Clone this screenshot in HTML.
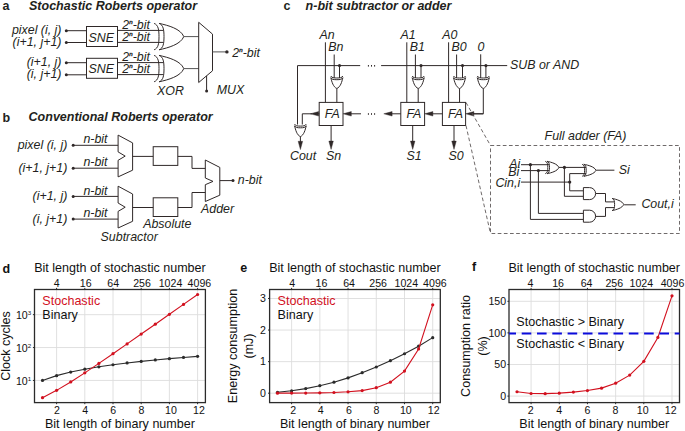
<!DOCTYPE html>
<html><head><meta charset="utf-8"><style>
html,body{margin:0;padding:0;background:#fff;}
svg{display:block;font-family:"Liberation Sans",sans-serif;}
</style></head><body>
<svg width="685" height="431" viewBox="0 0 685 431">
<rect width="685" height="431" fill="#fff"/>
<text x="2.60" y="9.85" font-size="12.5" text-anchor="start" font-weight="bold" font-style="normal" fill="#231f20" >a</text>
<text x="29.00" y="9.65" font-size="12.5" text-anchor="start" font-weight="bold" font-style="italic" fill="#231f20" >Stochastic Roberts operator</text>
<text x="61.50" y="34.10" font-size="12.4" text-anchor="end" font-weight="normal" font-style="italic" fill="#231f20" >pixel (i, j)</text>
<circle cx="66.30" cy="30.70" r="1.5" fill="#2f2828"/>
<line x1="66.30" y1="30.70" x2="86.50" y2="30.70" stroke="#2f2828" stroke-width="1" />
<text x="61.50" y="45.90" font-size="12.4" text-anchor="end" font-weight="normal" font-style="italic" fill="#231f20" >(i+1, j+1)</text>
<circle cx="66.30" cy="42.50" r="1.5" fill="#2f2828"/>
<line x1="66.30" y1="42.50" x2="86.50" y2="42.50" stroke="#2f2828" stroke-width="1" />
<text x="61.50" y="66.10" font-size="12.4" text-anchor="end" font-weight="normal" font-style="italic" fill="#231f20" >(i+1, j)</text>
<circle cx="66.30" cy="62.70" r="1.5" fill="#2f2828"/>
<line x1="66.30" y1="62.70" x2="86.50" y2="62.70" stroke="#2f2828" stroke-width="1" />
<text x="61.50" y="78.20" font-size="12.4" text-anchor="end" font-weight="normal" font-style="italic" fill="#231f20" >(i, j+1)</text>
<circle cx="66.30" cy="74.80" r="1.5" fill="#2f2828"/>
<line x1="66.30" y1="74.80" x2="86.50" y2="74.80" stroke="#2f2828" stroke-width="1" />
<rect x="86.50" y="26.50" width="31.00" height="20.00" fill="none" stroke="#2f2828" stroke-width="1" />
<text x="88.60" y="41.55" font-size="12.4" text-anchor="start" font-weight="normal" font-style="italic" fill="#231f20" >SNE</text>
<rect x="86.50" y="58.30" width="31.00" height="20.00" fill="none" stroke="#2f2828" stroke-width="1" />
<text x="88.60" y="73.35" font-size="12.4" text-anchor="start" font-weight="normal" font-style="italic" fill="#231f20" >SNE</text>
<line x1="117.50" y1="30.40" x2="163.20" y2="30.40" stroke="#2f2828" stroke-width="1" />
<line x1="117.50" y1="42.40" x2="163.20" y2="42.40" stroke="#2f2828" stroke-width="1" />
<text x="122.30" y="28.80" font-size="12.4" font-style="italic" fill="#231f20">2<tspan font-size="6.2" dy="-5.1" stroke="#231f20" stroke-width="0.35">n</tspan><tspan dy="5.1">-bit</tspan></text>
<text x="122.30" y="40.70" font-size="12.4" font-style="italic" fill="#231f20">2<tspan font-size="6.2" dy="-5.1" stroke="#231f20" stroke-width="0.35">n</tspan><tspan dy="5.1">-bit</tspan></text>
<path transform="translate(159.10,36.60) rotate(0)" d="M0,-13.20 C9.16,-11.19 21.49,-7.85 24.70,0 C21.49,7.85 9.16,11.19 0,13.20 C4.31,11.62 4.90,6.60 4.90,0 C4.90,-6.60 4.31,-11.62 0,-13.20 Z" fill="none" stroke="#2f2828" stroke-width="1"/>
<path transform="translate(159.10,36.60) rotate(0)" d="M-5.00,-13.20 C-0.69,-11.62 -0.10,-6.60 -0.10,0 C-0.10,6.60 -0.69,11.62 -5.00,13.20" fill="none" stroke="#2f2828" stroke-width="1"/>
<line x1="183.80" y1="36.60" x2="198.70" y2="36.60" stroke="#555" stroke-width="1" />
<line x1="117.50" y1="62.60" x2="163.20" y2="62.60" stroke="#2f2828" stroke-width="1" />
<line x1="117.50" y1="74.60" x2="163.20" y2="74.60" stroke="#2f2828" stroke-width="1" />
<text x="122.30" y="61.00" font-size="12.4" font-style="italic" fill="#231f20">2<tspan font-size="6.2" dy="-5.1" stroke="#231f20" stroke-width="0.35">n</tspan><tspan dy="5.1">-bit</tspan></text>
<text x="122.30" y="72.90" font-size="12.4" font-style="italic" fill="#231f20">2<tspan font-size="6.2" dy="-5.1" stroke="#231f20" stroke-width="0.35">n</tspan><tspan dy="5.1">-bit</tspan></text>
<path transform="translate(159.10,68.60) rotate(0)" d="M0,-13.20 C9.16,-11.19 21.49,-7.85 24.70,0 C21.49,7.85 9.16,11.19 0,13.20 C4.31,11.62 4.90,6.60 4.90,0 C4.90,-6.60 4.31,-11.62 0,-13.20 Z" fill="none" stroke="#2f2828" stroke-width="1"/>
<path transform="translate(159.10,68.60) rotate(0)" d="M-5.00,-13.20 C-0.69,-11.62 -0.10,-6.60 -0.10,0 C-0.10,6.60 -0.69,11.62 -5.00,13.20" fill="none" stroke="#2f2828" stroke-width="1"/>
<line x1="183.80" y1="68.60" x2="198.70" y2="68.60" stroke="#555" stroke-width="1" />
<polygon points="198.70,22.30 212.50,34.10 212.50,70.80 198.70,82.50" fill="none" stroke="#2f2828" stroke-width="1" stroke-linejoin="miter" />
<line x1="212.50" y1="51.90" x2="226.90" y2="51.90" stroke="#555" stroke-width="1" />
<circle cx="226.90" cy="51.90" r="1.7" fill="#2f2828"/>
<line x1="206.60" y1="75.90" x2="206.60" y2="90.90" stroke="#2f2828" stroke-width="1" />
<circle cx="206.60" cy="90.90" r="1.5" fill="#2f2828"/>
<text x="232.30" y="56.80" font-size="12.4" font-style="italic" fill="#231f20">2<tspan font-size="6.2" dy="-5.1" stroke="#231f20" stroke-width="0.35">n</tspan><tspan dy="5.1">-bit</tspan></text>
<text x="157.00" y="94.55" font-size="12.4" text-anchor="start" font-weight="normal" font-style="italic" fill="#231f20" >XOR</text>
<text x="216.80" y="94.35" font-size="12.4" text-anchor="start" font-weight="normal" font-style="italic" fill="#231f20" >MUX</text>
<text x="2.60" y="121.75" font-size="12.5" text-anchor="start" font-weight="bold" font-style="normal" fill="#231f20" >b</text>
<text x="28.60" y="121.45" font-size="12.5" text-anchor="start" font-weight="bold" font-style="italic" fill="#231f20" >Conventional Roberts operator</text>
<text x="67.30" y="148.70" font-size="12.4" text-anchor="end" font-weight="normal" font-style="italic" fill="#231f20" >pixel (i, j)</text>
<circle cx="73.20" cy="145.30" r="1.5" fill="#2f2828"/>
<line x1="73.20" y1="145.30" x2="118.10" y2="145.30" stroke="#2f2828" stroke-width="1" />
<text x="83.40" y="143.45" font-size="12.4" text-anchor="start" font-weight="normal" font-style="italic" fill="#231f20" >n-bit</text>
<text x="67.30" y="171.60" font-size="12.4" text-anchor="end" font-weight="normal" font-style="italic" fill="#231f20" >(i+1, j+1)</text>
<circle cx="73.20" cy="168.20" r="1.5" fill="#2f2828"/>
<line x1="73.20" y1="168.20" x2="118.10" y2="168.20" stroke="#2f2828" stroke-width="1" />
<text x="83.40" y="166.35" font-size="12.4" text-anchor="start" font-weight="normal" font-style="italic" fill="#231f20" >n-bit</text>
<text x="67.30" y="199.80" font-size="12.4" text-anchor="end" font-weight="normal" font-style="italic" fill="#231f20" >(i+1, j)</text>
<circle cx="73.20" cy="196.40" r="1.5" fill="#2f2828"/>
<line x1="73.20" y1="196.40" x2="118.10" y2="196.40" stroke="#2f2828" stroke-width="1" />
<text x="83.40" y="194.55" font-size="12.4" text-anchor="start" font-weight="normal" font-style="italic" fill="#231f20" >n-bit</text>
<text x="67.30" y="222.50" font-size="12.4" text-anchor="end" font-weight="normal" font-style="italic" fill="#231f20" >(i, j+1)</text>
<circle cx="73.20" cy="219.10" r="1.5" fill="#2f2828"/>
<line x1="73.20" y1="219.10" x2="118.10" y2="219.10" stroke="#2f2828" stroke-width="1" />
<text x="83.40" y="217.25" font-size="12.4" text-anchor="start" font-weight="normal" font-style="italic" fill="#231f20" >n-bit</text>
<polygon points="118.10,135.10 132.60,142.90 132.60,170.20 118.10,176.90 118.10,160.30 125.20,156.10 118.10,151.90" fill="none" stroke="#2f2828" stroke-width="1" stroke-linejoin="miter" />
<line x1="132.60" y1="156.40" x2="153.20" y2="156.40" stroke="#2f2828" stroke-width="1" />
<rect x="153.20" y="146.70" width="24.60" height="18.70" fill="none" stroke="#2f2828" stroke-width="1" />
<polygon points="118.10,186.20 132.60,194.00 132.60,221.30 118.10,228.00 118.10,211.40 125.20,207.20 118.10,203.00" fill="none" stroke="#2f2828" stroke-width="1" stroke-linejoin="miter" />
<line x1="132.60" y1="207.50" x2="153.20" y2="207.50" stroke="#2f2828" stroke-width="1" />
<rect x="153.20" y="197.80" width="24.60" height="18.70" fill="none" stroke="#2f2828" stroke-width="1" />
<line x1="177.80" y1="156.40" x2="192.00" y2="156.40" stroke="#2f2828" stroke-width="1" />
<line x1="192.00" y1="156.40" x2="192.00" y2="168.40" stroke="#2f2828" stroke-width="1" />
<line x1="192.00" y1="168.40" x2="205.30" y2="168.40" stroke="#2f2828" stroke-width="1" />
<line x1="177.80" y1="207.50" x2="192.00" y2="207.50" stroke="#2f2828" stroke-width="1" />
<line x1="192.00" y1="207.50" x2="192.00" y2="192.50" stroke="#2f2828" stroke-width="1" />
<line x1="192.00" y1="192.50" x2="205.30" y2="192.50" stroke="#2f2828" stroke-width="1" />
<polygon points="205.30,160.00 219.80,167.40 219.80,195.20 205.30,201.50 205.30,184.70 213.00,181.40 205.30,178.00" fill="none" stroke="#2f2828" stroke-width="1" stroke-linejoin="miter" />
<line x1="219.80" y1="180.60" x2="233.00" y2="180.60" stroke="#2f2828" stroke-width="1" />
<circle cx="233.00" cy="180.60" r="1.5" fill="#2f2828"/>
<text x="237.80" y="184.45" font-size="12.4" text-anchor="start" font-weight="normal" font-style="italic" fill="#231f20" >n-bit</text>
<text x="100.60" y="240.85" font-size="12.4" text-anchor="start" font-weight="normal" font-style="italic" fill="#231f20" >Subtractor</text>
<text x="143.20" y="228.35" font-size="12.4" text-anchor="start" font-weight="normal" font-style="italic" fill="#231f20" >Absolute</text>
<text x="201.00" y="212.75" font-size="12.4" text-anchor="start" font-weight="normal" font-style="italic" fill="#231f20" >Adder</text>
<text x="283.60" y="10.05" font-size="12.5" text-anchor="start" font-weight="bold" font-style="normal" fill="#231f20" >c</text>
<text x="305.60" y="9.55" font-size="12.5" text-anchor="start" font-weight="bold" font-style="italic" fill="#231f20" >n-bit subtractor or adder</text>
<line x1="297.50" y1="65.60" x2="360.20" y2="65.60" stroke="#2f2828" stroke-width="1" />
<line x1="381.10" y1="65.60" x2="507.20" y2="65.60" stroke="#2f2828" stroke-width="1" />
<text x="510.00" y="69.15" font-size="12.4" text-anchor="start" font-weight="normal" font-style="italic" fill="#231f20" >SUB or AND</text>
<text x="319.40" y="38.75" font-size="12.4" text-anchor="start" font-weight="normal" font-style="italic" fill="#231f20" >An</text>
<text x="328.20" y="51.25" font-size="12.4" text-anchor="start" font-weight="normal" font-style="italic" fill="#231f20" >Bn</text>
<line x1="325.40" y1="42.30" x2="325.40" y2="102.40" stroke="#2f2828" stroke-width="1" />
<line x1="334.20" y1="54.50" x2="334.20" y2="78.00" stroke="#2f2828" stroke-width="1" />
<circle cx="339.50" cy="65.60" r="1.55" fill="#2f2828"/>
<line x1="339.50" y1="65.60" x2="339.50" y2="78.00" stroke="#2f2828" stroke-width="1" />
<path transform="translate(336.85,77.70) rotate(90)" d="M0,-6.00 C4.01,-5.09 9.40,-3.57 10.80,0 C9.40,3.57 4.01,5.09 0,6.00 C1.76,5.28 2.00,3.00 2.00,0 C2.00,-3.00 1.76,-5.28 0,-6.00 Z" fill="#fff" stroke="#2f2828" stroke-width="1"/>
<path transform="translate(336.85,77.70) rotate(90)" d="M-1.70,-6.00 C0.06,-5.28 0.30,-3.00 0.30,0 C0.30,3.00 0.06,5.28 -1.70,6.00" fill="none" stroke="#2f2828" stroke-width="1"/>
<line x1="336.85" y1="88.70" x2="336.85" y2="102.40" stroke="#2f2828" stroke-width="1" />
<rect x="319.20" y="102.40" width="23.80" height="23.10" fill="none" stroke="#2f2828" stroke-width="1" />
<text x="324.80" y="118.05" font-size="12.4" text-anchor="start" font-weight="normal" font-style="italic" fill="#231f20" >FA</text>
<line x1="331.10" y1="125.50" x2="331.10" y2="143.40" stroke="#2f2828" stroke-width="1" />
<polygon points="328.85,141.10 333.35,141.10 331.10,149.40" fill="#2f2828" stroke="#2f2828" stroke-width="0.4" stroke-linejoin="miter" />
<text x="326.00" y="160.15" font-size="12.4" text-anchor="start" font-weight="normal" font-style="italic" fill="#231f20" >Sn</text>
<text x="400.60" y="38.75" font-size="12.4" text-anchor="start" font-weight="normal" font-style="italic" fill="#231f20" >A1</text>
<text x="409.80" y="51.25" font-size="12.4" text-anchor="start" font-weight="normal" font-style="italic" fill="#231f20" >B1</text>
<line x1="406.80" y1="42.30" x2="406.80" y2="102.40" stroke="#2f2828" stroke-width="1" />
<line x1="415.40" y1="54.50" x2="415.40" y2="78.00" stroke="#2f2828" stroke-width="1" />
<circle cx="421.00" cy="65.60" r="1.55" fill="#2f2828"/>
<line x1="421.00" y1="65.60" x2="421.00" y2="78.00" stroke="#2f2828" stroke-width="1" />
<path transform="translate(418.20,77.70) rotate(90)" d="M0,-6.00 C4.01,-5.09 9.40,-3.57 10.80,0 C9.40,3.57 4.01,5.09 0,6.00 C1.76,5.28 2.00,3.00 2.00,0 C2.00,-3.00 1.76,-5.28 0,-6.00 Z" fill="#fff" stroke="#2f2828" stroke-width="1"/>
<path transform="translate(418.20,77.70) rotate(90)" d="M-1.70,-6.00 C0.06,-5.28 0.30,-3.00 0.30,0 C0.30,3.00 0.06,5.28 -1.70,6.00" fill="none" stroke="#2f2828" stroke-width="1"/>
<line x1="418.20" y1="88.70" x2="418.20" y2="102.40" stroke="#2f2828" stroke-width="1" />
<rect x="400.80" y="102.40" width="23.80" height="23.10" fill="none" stroke="#2f2828" stroke-width="1" />
<text x="406.40" y="118.05" font-size="12.4" text-anchor="start" font-weight="normal" font-style="italic" fill="#231f20" >FA</text>
<line x1="412.70" y1="125.50" x2="412.70" y2="143.40" stroke="#2f2828" stroke-width="1" />
<polygon points="410.45,141.10 414.95,141.10 412.70,149.40" fill="#2f2828" stroke="#2f2828" stroke-width="0.4" stroke-linejoin="miter" />
<text x="406.40" y="160.15" font-size="12.4" text-anchor="start" font-weight="normal" font-style="italic" fill="#231f20" >S1</text>
<text x="442.30" y="38.75" font-size="12.4" text-anchor="start" font-weight="normal" font-style="italic" fill="#231f20" >A0</text>
<text x="451.60" y="51.25" font-size="12.4" text-anchor="start" font-weight="normal" font-style="italic" fill="#231f20" >B0</text>
<line x1="448.60" y1="42.30" x2="448.60" y2="102.40" stroke="#2f2828" stroke-width="1" />
<line x1="456.60" y1="54.50" x2="456.60" y2="78.00" stroke="#2f2828" stroke-width="1" />
<circle cx="462.50" cy="65.60" r="1.55" fill="#2f2828"/>
<line x1="462.50" y1="65.60" x2="462.50" y2="78.00" stroke="#2f2828" stroke-width="1" />
<path transform="translate(459.55,77.70) rotate(90)" d="M0,-6.00 C4.01,-5.09 9.40,-3.57 10.80,0 C9.40,3.57 4.01,5.09 0,6.00 C1.76,5.28 2.00,3.00 2.00,0 C2.00,-3.00 1.76,-5.28 0,-6.00 Z" fill="#fff" stroke="#2f2828" stroke-width="1"/>
<path transform="translate(459.55,77.70) rotate(90)" d="M-1.70,-6.00 C0.06,-5.28 0.30,-3.00 0.30,0 C0.30,3.00 0.06,5.28 -1.70,6.00" fill="none" stroke="#2f2828" stroke-width="1"/>
<line x1="459.55" y1="88.70" x2="459.55" y2="102.40" stroke="#2f2828" stroke-width="1" />
<rect x="442.40" y="102.40" width="23.20" height="23.10" fill="none" stroke="#2f2828" stroke-width="1" />
<text x="448.00" y="118.05" font-size="12.4" text-anchor="start" font-weight="normal" font-style="italic" fill="#231f20" >FA</text>
<line x1="454.00" y1="125.50" x2="454.00" y2="143.40" stroke="#2f2828" stroke-width="1" />
<polygon points="451.75,141.10 456.25,141.10 454.00,149.40" fill="#2f2828" stroke="#2f2828" stroke-width="0.4" stroke-linejoin="miter" />
<text x="448.60" y="160.15" font-size="12.4" text-anchor="start" font-weight="normal" font-style="italic" fill="#231f20" >S0</text>
<text x="477.40" y="51.05" font-size="12.4" text-anchor="start" font-weight="normal" font-style="italic" fill="#231f20" >0</text>
<line x1="480.70" y1="54.30" x2="480.70" y2="78.00" stroke="#2f2828" stroke-width="1" />
<circle cx="485.90" cy="65.60" r="1.55" fill="#2f2828"/>
<line x1="485.90" y1="65.60" x2="485.90" y2="78.00" stroke="#2f2828" stroke-width="1" />
<path transform="translate(483.30,77.70) rotate(90)" d="M0,-6.00 C4.01,-5.09 9.40,-3.57 10.80,0 C9.40,3.57 4.01,5.09 0,6.00 C1.76,5.28 2.00,3.00 2.00,0 C2.00,-3.00 1.76,-5.28 0,-6.00 Z" fill="#fff" stroke="#2f2828" stroke-width="1"/>
<path transform="translate(483.30,77.70) rotate(90)" d="M-1.70,-6.00 C0.06,-5.28 0.30,-3.00 0.30,0 C0.30,3.00 0.06,5.28 -1.70,6.00" fill="none" stroke="#2f2828" stroke-width="1"/>
<polyline points="483.30,88.70 483.30,113.80 470.00,113.80" fill="none" stroke="#2f2828" stroke-width="1" stroke-linejoin="miter" />
<line x1="483.30" y1="113.80" x2="471.60" y2="113.80" stroke="#2f2828" stroke-width="1" />
<polygon points="473.90,111.55 473.90,116.05 465.60,113.80" fill="#2f2828" stroke="#2f2828" stroke-width="0.4" stroke-linejoin="miter" />
<line x1="442.40" y1="113.80" x2="430.60" y2="113.80" stroke="#2f2828" stroke-width="1" />
<polygon points="432.90,111.55 432.90,116.05 424.60,113.80" fill="#2f2828" stroke="#2f2828" stroke-width="0.4" stroke-linejoin="miter" />
<line x1="400.80" y1="113.80" x2="389.80" y2="113.80" stroke="#2f2828" stroke-width="1" />
<polygon points="392.10,111.55 392.10,116.05 383.80,113.80" fill="#2f2828" stroke="#2f2828" stroke-width="0.4" stroke-linejoin="miter" />
<line x1="361.00" y1="113.80" x2="349.00" y2="113.80" stroke="#2f2828" stroke-width="1" />
<polygon points="351.30,111.55 351.30,116.05 343.00,113.80" fill="#2f2828" stroke="#2f2828" stroke-width="0.4" stroke-linejoin="miter" />
<rect x="367.9" y="65.0" width="1" height="1.6" fill="#2f2828"/>
<rect x="367.9" y="113.2" width="1" height="1.6" fill="#2f2828"/>
<rect x="371.0" y="65.0" width="1" height="1.6" fill="#2f2828"/>
<rect x="371.0" y="113.2" width="1" height="1.6" fill="#2f2828"/>
<rect x="374.1" y="65.0" width="1" height="1.6" fill="#2f2828"/>
<rect x="374.1" y="113.2" width="1" height="1.6" fill="#2f2828"/>
<line x1="319.20" y1="113.80" x2="316.40" y2="113.80" stroke="#2f2828" stroke-width="1" />
<polygon points="318.70,111.55 318.70,116.05 310.40,113.80" fill="#2f2828" stroke="#2f2828" stroke-width="0.4" stroke-linejoin="miter" />
<polyline points="312.00,113.80 302.30,113.80 302.30,124.50" fill="none" stroke="#2f2828" stroke-width="1" stroke-linejoin="miter" />
<line x1="297.50" y1="65.60" x2="297.50" y2="124.50" stroke="#2f2828" stroke-width="1" />
<path transform="translate(300.40,125.80) rotate(90)" d="M0,-5.80 C4.01,-4.92 9.40,-3.45 10.80,0 C9.40,3.45 4.01,4.92 0,5.80 C1.76,5.10 2.00,2.90 2.00,0 C2.00,-2.90 1.76,-5.10 0,-5.80 Z" fill="#fff" stroke="#2f2828" stroke-width="1"/>
<path transform="translate(300.40,125.80) rotate(90)" d="M-1.70,-5.80 C0.06,-5.10 0.30,-2.90 0.30,0 C0.30,2.90 0.06,5.10 -1.70,5.80" fill="none" stroke="#2f2828" stroke-width="1"/>
<line x1="300.40" y1="136.60" x2="300.40" y2="143.60" stroke="#2f2828" stroke-width="1" />
<polygon points="298.15,141.30 302.65,141.30 300.40,149.60" fill="#2f2828" stroke="#2f2828" stroke-width="0.4" stroke-linejoin="miter" />
<text x="290.00" y="160.25" font-size="12.4" text-anchor="start" font-weight="normal" font-style="italic" fill="#231f20" >Cout</text>
<line x1="466.00" y1="102.50" x2="490.50" y2="145.50" stroke="#5f5959" stroke-width="0.9" stroke-dasharray="3.7,2.45"/>
<line x1="466.00" y1="125.60" x2="490.50" y2="233.50" stroke="#5f5959" stroke-width="0.9" stroke-dasharray="3.7,2.45"/>
<rect x="490.50" y="145.50" width="189.00" height="88.00" fill="none" stroke="#5f5959" stroke-width="0.9" stroke-dasharray="3.7,2.45"/>
<text x="544.60" y="139.85" font-size="12.4" text-anchor="start" font-weight="normal" font-style="italic" fill="#231f20" >Full adder (FA)</text>
<text x="520.20" y="168.05" font-size="12.4" text-anchor="end" font-weight="normal" font-style="italic" fill="#231f20" >Ai</text>
<text x="519.20" y="175.95" font-size="12.4" text-anchor="end" font-weight="normal" font-style="italic" fill="#231f20" >Bi</text>
<text x="520.20" y="187.25" font-size="12.4" text-anchor="end" font-weight="normal" font-style="italic" fill="#231f20" >Cin,i</text>
<line x1="521.00" y1="164.70" x2="549.00" y2="164.70" stroke="#2f2828" stroke-width="1" />
<line x1="521.00" y1="170.60" x2="549.00" y2="170.60" stroke="#2f2828" stroke-width="1" />
<line x1="521.00" y1="182.10" x2="569.70" y2="182.10" stroke="#2f2828" stroke-width="1" />
<circle cx="530.40" cy="164.70" r="1.6" fill="#2f2828"/>
<circle cx="538.40" cy="170.60" r="1.6" fill="#2f2828"/>
<polyline points="530.40,164.70 530.40,219.40 583.30,219.40" fill="none" stroke="#2f2828" stroke-width="1" stroke-linejoin="miter" />
<polyline points="538.40,170.60 538.40,213.40 583.30,213.40" fill="none" stroke="#2f2828" stroke-width="1" stroke-linejoin="miter" />
<path transform="translate(547.00,167.50) rotate(0)" d="M0,-6.20 C4.41,-5.26 10.35,-3.69 11.90,0 C10.35,3.69 4.41,5.26 0,6.20 C2.20,5.46 2.50,3.10 2.50,0 C2.50,-3.10 2.20,-5.46 0,-6.20 Z" fill="#fff" stroke="#2f2828" stroke-width="1"/>
<path transform="translate(547.00,167.50) rotate(0)" d="M-1.70,-6.20 C0.50,-5.46 0.80,-3.10 0.80,0 C0.80,3.10 0.50,5.46 -1.70,6.20" fill="none" stroke="#2f2828" stroke-width="1"/>
<line x1="558.80" y1="167.40" x2="586.00" y2="167.40" stroke="#2f2828" stroke-width="1" />
<circle cx="564.40" cy="167.40" r="1.6" fill="#2f2828"/>
<polyline points="564.40,167.40 564.40,196.30 583.30,196.30" fill="none" stroke="#2f2828" stroke-width="1" stroke-linejoin="miter" />
<circle cx="569.70" cy="182.10" r="1.6" fill="#2f2828"/>
<polyline points="586.00,173.60 569.70,173.60 569.70,190.80 583.30,190.80" fill="none" stroke="#2f2828" stroke-width="1" stroke-linejoin="miter" />
<path transform="translate(583.80,170.30) rotate(0)" d="M0,-6.00 C4.53,-5.09 10.61,-3.57 12.20,0 C10.61,3.57 4.53,5.09 0,6.00 C2.11,5.28 2.40,3.00 2.40,0 C2.40,-3.00 2.11,-5.28 0,-6.00 Z" fill="#fff" stroke="#2f2828" stroke-width="1"/>
<path transform="translate(583.80,170.30) rotate(0)" d="M-1.60,-6.00 C0.51,-5.28 0.80,-3.00 0.80,0 C0.80,3.00 0.51,5.28 -1.60,6.00" fill="none" stroke="#2f2828" stroke-width="1"/>
<line x1="596.20" y1="170.20" x2="614.40" y2="170.20" stroke="#2f2828" stroke-width="1" />
<text x="618.80" y="174.25" font-size="12.4" text-anchor="start" font-weight="normal" font-style="italic" fill="#231f20" >Si</text>
<path d="M583.40,187.60 L589.60,187.60 A6.00,6.00 0 0 1 589.60,199.60 L583.40,199.60 Z" fill="#fff" stroke="#2f2828" stroke-width="1" />
<path d="M583.40,210.20 L589.60,210.20 A6.00,6.00 0 0 1 589.60,222.20 L583.40,222.20 Z" fill="#fff" stroke="#2f2828" stroke-width="1" />
<polyline points="595.70,193.50 605.50,193.50 605.50,201.90 614.00,201.90" fill="none" stroke="#2f2828" stroke-width="1" stroke-linejoin="miter" />
<polyline points="595.70,216.40 605.50,216.40 605.50,207.60 614.00,207.60" fill="none" stroke="#2f2828" stroke-width="1" stroke-linejoin="miter" />
<path transform="translate(612.20,204.50) rotate(0)" d="M0,-6.05 C4.27,-5.13 10.01,-3.60 11.50,0 C10.01,3.60 4.27,5.13 0,6.05 C2.11,5.32 2.40,3.02 2.40,0 C2.40,-3.02 2.11,-5.32 0,-6.05 Z" fill="#fff" stroke="#2f2828" stroke-width="1"/>
<line x1="624.20" y1="204.80" x2="635.70" y2="204.80" stroke="#2f2828" stroke-width="1" />
<text x="641.40" y="208.25" font-size="12.4" text-anchor="start" font-weight="normal" font-style="italic" fill="#231f20" >Cout,i</text>
<line x1="56.60" y1="289.50" x2="56.60" y2="402.60" stroke="#dcdcdc" stroke-width="0.9" />
<line x1="84.80" y1="289.50" x2="84.80" y2="402.60" stroke="#dcdcdc" stroke-width="0.9" />
<line x1="113.00" y1="289.50" x2="113.00" y2="402.60" stroke="#dcdcdc" stroke-width="0.9" />
<line x1="141.20" y1="289.50" x2="141.20" y2="402.60" stroke="#dcdcdc" stroke-width="0.9" />
<line x1="169.40" y1="289.50" x2="169.40" y2="402.60" stroke="#dcdcdc" stroke-width="0.9" />
<line x1="197.60" y1="289.50" x2="197.60" y2="402.60" stroke="#dcdcdc" stroke-width="0.9" />
<line x1="34.50" y1="380.45" x2="205.40" y2="380.45" stroke="#dcdcdc" stroke-width="0.9" />
<line x1="34.50" y1="347.55" x2="205.40" y2="347.55" stroke="#dcdcdc" stroke-width="0.9" />
<line x1="34.50" y1="314.65" x2="205.40" y2="314.65" stroke="#dcdcdc" stroke-width="0.9" />
<rect x="34.50" y="289.50" width="170.90" height="113.10" fill="none" stroke="#2b2b2b" stroke-width="1.3" />
<line x1="56.60" y1="402.60" x2="56.60" y2="404.20" stroke="#2b2b2b" stroke-width="1" />
<line x1="56.60" y1="289.50" x2="56.60" y2="287.90" stroke="#2b2b2b" stroke-width="1" />
<text x="57.00" y="413.90" font-size="10.6" text-anchor="middle" font-weight="normal" font-style="normal" fill="#111" >2</text>
<text x="56.60" y="286.50" font-size="10.6" text-anchor="middle" font-weight="normal" font-style="normal" fill="#111" >4</text>
<line x1="84.80" y1="402.60" x2="84.80" y2="404.20" stroke="#2b2b2b" stroke-width="1" />
<line x1="84.80" y1="289.50" x2="84.80" y2="287.90" stroke="#2b2b2b" stroke-width="1" />
<text x="85.10" y="413.90" font-size="10.6" text-anchor="middle" font-weight="normal" font-style="normal" fill="#111" >4</text>
<text x="85.70" y="286.50" font-size="10.6" text-anchor="middle" font-weight="normal" font-style="normal" fill="#111" >16</text>
<line x1="113.00" y1="402.60" x2="113.00" y2="404.20" stroke="#2b2b2b" stroke-width="1" />
<line x1="113.00" y1="289.50" x2="113.00" y2="287.90" stroke="#2b2b2b" stroke-width="1" />
<text x="113.30" y="413.90" font-size="10.6" text-anchor="middle" font-weight="normal" font-style="normal" fill="#111" >6</text>
<text x="113.20" y="286.50" font-size="10.6" text-anchor="middle" font-weight="normal" font-style="normal" fill="#111" >64</text>
<line x1="141.20" y1="402.60" x2="141.20" y2="404.20" stroke="#2b2b2b" stroke-width="1" />
<line x1="141.20" y1="289.50" x2="141.20" y2="287.90" stroke="#2b2b2b" stroke-width="1" />
<text x="141.50" y="413.90" font-size="10.6" text-anchor="middle" font-weight="normal" font-style="normal" fill="#111" >8</text>
<text x="142.00" y="286.50" font-size="10.6" text-anchor="middle" font-weight="normal" font-style="normal" fill="#111" >256</text>
<line x1="169.40" y1="402.60" x2="169.40" y2="404.20" stroke="#2b2b2b" stroke-width="1" />
<line x1="169.40" y1="289.50" x2="169.40" y2="287.90" stroke="#2b2b2b" stroke-width="1" />
<text x="170.90" y="413.90" font-size="10.6" text-anchor="middle" font-weight="normal" font-style="normal" fill="#111" >10</text>
<text x="170.50" y="286.50" font-size="10.6" text-anchor="middle" font-weight="normal" font-style="normal" fill="#111" >1024</text>
<line x1="197.60" y1="402.60" x2="197.60" y2="404.20" stroke="#2b2b2b" stroke-width="1" />
<line x1="197.60" y1="289.50" x2="197.60" y2="287.90" stroke="#2b2b2b" stroke-width="1" />
<text x="198.90" y="413.90" font-size="10.6" text-anchor="middle" font-weight="normal" font-style="normal" fill="#111" >12</text>
<text x="199.40" y="286.50" font-size="10.6" text-anchor="middle" font-weight="normal" font-style="normal" fill="#111" >4096</text>
<line x1="34.50" y1="380.45" x2="32.90" y2="380.45" stroke="#2b2b2b" stroke-width="1" />
<text x="31.20" y="384.65" font-size="10.6" text-anchor="end" fill="#111">10<tspan font-size="6.2" dy="-3.9">1</tspan></text>
<line x1="34.50" y1="347.55" x2="32.90" y2="347.55" stroke="#2b2b2b" stroke-width="1" />
<text x="31.20" y="351.75" font-size="10.6" text-anchor="end" fill="#111">10<tspan font-size="6.2" dy="-3.9">2</tspan></text>
<line x1="34.50" y1="314.65" x2="32.90" y2="314.65" stroke="#2b2b2b" stroke-width="1" />
<text x="31.20" y="318.85" font-size="10.6" text-anchor="end" fill="#111">10<tspan font-size="6.2" dy="-3.9">3</tspan></text>
<text x="119.95" y="271.70" font-size="12.55" text-anchor="middle" font-weight="normal" font-style="normal" fill="#111" >Bit length of stochastic number</text>
<text x="119.95" y="427.60" font-size="12.55" text-anchor="middle" font-weight="normal" font-style="normal" fill="#111" >Bit length of binary number</text>
<text x="2.60" y="272.55" font-size="12.5" text-anchor="start" font-weight="bold" font-style="normal" fill="#111" >d</text>
<polyline points="42.50,380.45 56.60,375.64 70.70,372.05 84.80,369.18 98.90,366.80 113.00,364.75 127.10,362.96 141.20,361.38 155.30,359.95 169.40,358.65 183.50,357.45 197.60,356.35" fill="none" stroke="#2b2b2b" stroke-width="1.1" stroke-linejoin="miter" />
<circle cx="42.50" cy="380.45" r="1.6" fill="#2b2b2b"/>
<circle cx="56.60" cy="375.64" r="1.6" fill="#2b2b2b"/>
<circle cx="70.70" cy="372.05" r="1.6" fill="#2b2b2b"/>
<circle cx="84.80" cy="369.18" r="1.6" fill="#2b2b2b"/>
<circle cx="98.90" cy="366.80" r="1.6" fill="#2b2b2b"/>
<circle cx="113.00" cy="364.75" r="1.6" fill="#2b2b2b"/>
<circle cx="127.10" cy="362.96" r="1.6" fill="#2b2b2b"/>
<circle cx="141.20" cy="361.38" r="1.6" fill="#2b2b2b"/>
<circle cx="155.30" cy="359.95" r="1.6" fill="#2b2b2b"/>
<circle cx="169.40" cy="358.65" r="1.6" fill="#2b2b2b"/>
<circle cx="183.50" cy="357.45" r="1.6" fill="#2b2b2b"/>
<circle cx="197.60" cy="356.35" r="1.6" fill="#2b2b2b"/>
<polyline points="42.50,397.65 56.60,390.35 70.70,381.96 84.80,372.87 98.90,363.39 113.00,353.71 127.10,343.91 141.20,334.06 155.30,324.19 169.40,314.30 183.50,304.40 197.60,294.50" fill="none" stroke="#d2101e" stroke-width="1.1" stroke-linejoin="miter" />
<circle cx="42.50" cy="397.65" r="1.6" fill="#d2101e"/>
<circle cx="56.60" cy="390.35" r="1.6" fill="#d2101e"/>
<circle cx="70.70" cy="381.96" r="1.6" fill="#d2101e"/>
<circle cx="84.80" cy="372.87" r="1.6" fill="#d2101e"/>
<circle cx="98.90" cy="363.39" r="1.6" fill="#d2101e"/>
<circle cx="113.00" cy="353.71" r="1.6" fill="#d2101e"/>
<circle cx="127.10" cy="343.91" r="1.6" fill="#d2101e"/>
<circle cx="141.20" cy="334.06" r="1.6" fill="#d2101e"/>
<circle cx="155.30" cy="324.19" r="1.6" fill="#d2101e"/>
<circle cx="169.40" cy="314.30" r="1.6" fill="#d2101e"/>
<circle cx="183.50" cy="304.40" r="1.6" fill="#d2101e"/>
<circle cx="197.60" cy="294.50" r="1.6" fill="#d2101e"/>
<text transform="translate(9.6,346) rotate(-90)" font-size="12.55" text-anchor="middle" fill="#111">Clock cycles</text>
<text x="42.30" y="304.50" font-size="12.55" text-anchor="start" font-weight="normal" font-style="normal" fill="#d2101e" >Stochastic</text>
<text x="42.30" y="318.70" font-size="12.55" text-anchor="start" font-weight="normal" font-style="normal" fill="#111" >Binary</text>
<line x1="291.61" y1="289.50" x2="291.61" y2="402.60" stroke="#dcdcdc" stroke-width="0.9" />
<line x1="319.83" y1="289.50" x2="319.83" y2="402.60" stroke="#dcdcdc" stroke-width="0.9" />
<line x1="348.05" y1="289.50" x2="348.05" y2="402.60" stroke="#dcdcdc" stroke-width="0.9" />
<line x1="376.27" y1="289.50" x2="376.27" y2="402.60" stroke="#dcdcdc" stroke-width="0.9" />
<line x1="404.49" y1="289.50" x2="404.49" y2="402.60" stroke="#dcdcdc" stroke-width="0.9" />
<line x1="432.71" y1="289.50" x2="432.71" y2="402.60" stroke="#dcdcdc" stroke-width="0.9" />
<line x1="269.60" y1="393.20" x2="440.30" y2="393.20" stroke="#dcdcdc" stroke-width="0.9" />
<line x1="269.60" y1="361.63" x2="440.30" y2="361.63" stroke="#dcdcdc" stroke-width="0.9" />
<line x1="269.60" y1="330.06" x2="440.30" y2="330.06" stroke="#dcdcdc" stroke-width="0.9" />
<line x1="269.60" y1="298.49" x2="440.30" y2="298.49" stroke="#dcdcdc" stroke-width="0.9" />
<rect x="269.60" y="289.50" width="170.70" height="113.10" fill="none" stroke="#2b2b2b" stroke-width="1.3" />
<line x1="291.61" y1="402.60" x2="291.61" y2="404.20" stroke="#2b2b2b" stroke-width="1" />
<line x1="291.61" y1="289.50" x2="291.61" y2="287.90" stroke="#2b2b2b" stroke-width="1" />
<text x="293.11" y="413.90" font-size="10.6" text-anchor="middle" font-weight="normal" font-style="normal" fill="#111" >2</text>
<text x="292.30" y="286.50" font-size="10.6" text-anchor="middle" font-weight="normal" font-style="normal" fill="#111" >4</text>
<line x1="319.83" y1="402.60" x2="319.83" y2="404.20" stroke="#2b2b2b" stroke-width="1" />
<line x1="319.83" y1="289.50" x2="319.83" y2="287.90" stroke="#2b2b2b" stroke-width="1" />
<text x="320.73" y="413.90" font-size="10.6" text-anchor="middle" font-weight="normal" font-style="normal" fill="#111" >4</text>
<text x="321.40" y="286.50" font-size="10.6" text-anchor="middle" font-weight="normal" font-style="normal" fill="#111" >16</text>
<line x1="348.05" y1="402.60" x2="348.05" y2="404.20" stroke="#2b2b2b" stroke-width="1" />
<line x1="348.05" y1="289.50" x2="348.05" y2="287.90" stroke="#2b2b2b" stroke-width="1" />
<text x="348.85" y="413.90" font-size="10.6" text-anchor="middle" font-weight="normal" font-style="normal" fill="#111" >6</text>
<text x="349.10" y="286.50" font-size="10.6" text-anchor="middle" font-weight="normal" font-style="normal" fill="#111" >64</text>
<line x1="376.27" y1="402.60" x2="376.27" y2="404.20" stroke="#2b2b2b" stroke-width="1" />
<line x1="376.27" y1="289.50" x2="376.27" y2="287.90" stroke="#2b2b2b" stroke-width="1" />
<text x="376.57" y="413.90" font-size="10.6" text-anchor="middle" font-weight="normal" font-style="normal" fill="#111" >8</text>
<text x="378.10" y="286.50" font-size="10.6" text-anchor="middle" font-weight="normal" font-style="normal" fill="#111" >256</text>
<line x1="404.49" y1="402.60" x2="404.49" y2="404.20" stroke="#2b2b2b" stroke-width="1" />
<line x1="404.49" y1="289.50" x2="404.49" y2="287.90" stroke="#2b2b2b" stroke-width="1" />
<text x="405.79" y="413.90" font-size="10.6" text-anchor="middle" font-weight="normal" font-style="normal" fill="#111" >10</text>
<text x="406.30" y="286.50" font-size="10.6" text-anchor="middle" font-weight="normal" font-style="normal" fill="#111" >1024</text>
<line x1="432.71" y1="402.60" x2="432.71" y2="404.20" stroke="#2b2b2b" stroke-width="1" />
<line x1="432.71" y1="289.50" x2="432.71" y2="287.90" stroke="#2b2b2b" stroke-width="1" />
<text x="433.71" y="413.90" font-size="10.6" text-anchor="middle" font-weight="normal" font-style="normal" fill="#111" >12</text>
<text x="434.90" y="286.50" font-size="10.6" text-anchor="middle" font-weight="normal" font-style="normal" fill="#111" >4096</text>
<line x1="269.60" y1="393.20" x2="268.00" y2="393.20" stroke="#2b2b2b" stroke-width="1" />
<text x="266" y="397.00" font-size="10.6" text-anchor="end" fill="#111">0</text>
<line x1="269.60" y1="361.63" x2="268.00" y2="361.63" stroke="#2b2b2b" stroke-width="1" />
<text x="266" y="365.43" font-size="10.6" text-anchor="end" fill="#111">1</text>
<line x1="269.60" y1="330.06" x2="268.00" y2="330.06" stroke="#2b2b2b" stroke-width="1" />
<text x="266" y="333.86" font-size="10.6" text-anchor="end" fill="#111">2</text>
<line x1="269.60" y1="298.49" x2="268.00" y2="298.49" stroke="#2b2b2b" stroke-width="1" />
<text x="266" y="302.29" font-size="10.6" text-anchor="end" fill="#111">3</text>
<text x="354.95" y="271.70" font-size="12.55" text-anchor="middle" font-weight="normal" font-style="normal" fill="#111" >Bit length of stochastic number</text>
<text x="354.95" y="427.60" font-size="12.55" text-anchor="middle" font-weight="normal" font-style="normal" fill="#111" >Bit length of binary number</text>
<text x="240.30" y="271.95" font-size="12.5" text-anchor="start" font-weight="bold" font-style="normal" fill="#111" >e</text>
<polyline points="277.50,392.25 291.61,390.80 305.72,388.59 319.83,385.69 333.94,382.21 348.05,377.89 362.16,372.68 376.27,367.00 390.38,360.68 404.49,353.74 418.60,346.16 432.71,337.64" fill="none" stroke="#2b2b2b" stroke-width="1.1" stroke-linejoin="miter" />
<circle cx="277.50" cy="392.25" r="1.6" fill="#2b2b2b"/>
<circle cx="291.61" cy="390.80" r="1.6" fill="#2b2b2b"/>
<circle cx="305.72" cy="388.59" r="1.6" fill="#2b2b2b"/>
<circle cx="319.83" cy="385.69" r="1.6" fill="#2b2b2b"/>
<circle cx="333.94" cy="382.21" r="1.6" fill="#2b2b2b"/>
<circle cx="348.05" cy="377.89" r="1.6" fill="#2b2b2b"/>
<circle cx="362.16" cy="372.68" r="1.6" fill="#2b2b2b"/>
<circle cx="376.27" cy="367.00" r="1.6" fill="#2b2b2b"/>
<circle cx="390.38" cy="360.68" r="1.6" fill="#2b2b2b"/>
<circle cx="404.49" cy="353.74" r="1.6" fill="#2b2b2b"/>
<circle cx="418.60" cy="346.16" r="1.6" fill="#2b2b2b"/>
<circle cx="432.71" cy="337.64" r="1.6" fill="#2b2b2b"/>
<polyline points="277.50,393.16 291.61,393.11 305.72,393.03 319.83,392.85 333.94,392.51 348.05,391.81 362.16,390.61 376.27,387.68 390.38,382.15 404.49,371.10 418.60,349.00 432.71,304.80" fill="none" stroke="#d2101e" stroke-width="1.1" stroke-linejoin="miter" />
<circle cx="277.50" cy="393.16" r="1.6" fill="#d2101e"/>
<circle cx="291.61" cy="393.11" r="1.6" fill="#d2101e"/>
<circle cx="305.72" cy="393.03" r="1.6" fill="#d2101e"/>
<circle cx="319.83" cy="392.85" r="1.6" fill="#d2101e"/>
<circle cx="333.94" cy="392.51" r="1.6" fill="#d2101e"/>
<circle cx="348.05" cy="391.81" r="1.6" fill="#d2101e"/>
<circle cx="362.16" cy="390.61" r="1.6" fill="#d2101e"/>
<circle cx="376.27" cy="387.68" r="1.6" fill="#d2101e"/>
<circle cx="390.38" cy="382.15" r="1.6" fill="#d2101e"/>
<circle cx="404.49" cy="371.10" r="1.6" fill="#d2101e"/>
<circle cx="418.60" cy="349.00" r="1.6" fill="#d2101e"/>
<circle cx="432.71" cy="304.80" r="1.6" fill="#d2101e"/>
<text transform="translate(237,346) rotate(-90)" font-size="12.55" text-anchor="middle" fill="#111">Energy consumption</text>
<text transform="translate(253.3,346) rotate(-90)" font-size="12.55" text-anchor="middle" fill="#111">(mJ)</text>
<text x="277.60" y="304.50" font-size="12.55" text-anchor="start" font-weight="normal" font-style="normal" fill="#d2101e" >Stochastic</text>
<text x="277.60" y="318.70" font-size="12.55" text-anchor="start" font-weight="normal" font-style="normal" fill="#111" >Binary</text>
<line x1="531.09" y1="289.50" x2="531.09" y2="402.60" stroke="#dcdcdc" stroke-width="0.9" />
<line x1="559.27" y1="289.50" x2="559.27" y2="402.60" stroke="#dcdcdc" stroke-width="0.9" />
<line x1="587.45" y1="289.50" x2="587.45" y2="402.60" stroke="#dcdcdc" stroke-width="0.9" />
<line x1="615.63" y1="289.50" x2="615.63" y2="402.60" stroke="#dcdcdc" stroke-width="0.9" />
<line x1="643.81" y1="289.50" x2="643.81" y2="402.60" stroke="#dcdcdc" stroke-width="0.9" />
<line x1="671.99" y1="289.50" x2="671.99" y2="402.60" stroke="#dcdcdc" stroke-width="0.9" />
<line x1="509.00" y1="396.10" x2="679.50" y2="396.10" stroke="#dcdcdc" stroke-width="0.9" />
<line x1="509.00" y1="364.50" x2="679.50" y2="364.50" stroke="#dcdcdc" stroke-width="0.9" />
<line x1="509.00" y1="332.90" x2="679.50" y2="332.90" stroke="#dcdcdc" stroke-width="0.9" />
<line x1="509.00" y1="301.30" x2="679.50" y2="301.30" stroke="#dcdcdc" stroke-width="0.9" />
<rect x="509.00" y="289.50" width="170.50" height="113.10" fill="none" stroke="#2b2b2b" stroke-width="1.3" />
<line x1="531.09" y1="402.60" x2="531.09" y2="404.20" stroke="#2b2b2b" stroke-width="1" />
<line x1="531.09" y1="289.50" x2="531.09" y2="287.90" stroke="#2b2b2b" stroke-width="1" />
<text x="530.69" y="413.90" font-size="10.6" text-anchor="middle" font-weight="normal" font-style="normal" fill="#111" >2</text>
<text x="530.50" y="286.50" font-size="10.6" text-anchor="middle" font-weight="normal" font-style="normal" fill="#111" >4</text>
<line x1="559.27" y1="402.60" x2="559.27" y2="404.20" stroke="#2b2b2b" stroke-width="1" />
<line x1="559.27" y1="289.50" x2="559.27" y2="287.90" stroke="#2b2b2b" stroke-width="1" />
<text x="559.27" y="413.90" font-size="10.6" text-anchor="middle" font-weight="normal" font-style="normal" fill="#111" >4</text>
<text x="558.10" y="286.50" font-size="10.6" text-anchor="middle" font-weight="normal" font-style="normal" fill="#111" >16</text>
<line x1="587.45" y1="402.60" x2="587.45" y2="404.20" stroke="#2b2b2b" stroke-width="1" />
<line x1="587.45" y1="289.50" x2="587.45" y2="287.90" stroke="#2b2b2b" stroke-width="1" />
<text x="587.45" y="413.90" font-size="10.6" text-anchor="middle" font-weight="normal" font-style="normal" fill="#111" >6</text>
<text x="586.60" y="286.50" font-size="10.6" text-anchor="middle" font-weight="normal" font-style="normal" fill="#111" >64</text>
<line x1="615.63" y1="402.60" x2="615.63" y2="404.20" stroke="#2b2b2b" stroke-width="1" />
<line x1="615.63" y1="289.50" x2="615.63" y2="287.90" stroke="#2b2b2b" stroke-width="1" />
<text x="615.33" y="413.90" font-size="10.6" text-anchor="middle" font-weight="normal" font-style="normal" fill="#111" >8</text>
<text x="614.30" y="286.50" font-size="10.6" text-anchor="middle" font-weight="normal" font-style="normal" fill="#111" >256</text>
<line x1="643.81" y1="402.60" x2="643.81" y2="404.20" stroke="#2b2b2b" stroke-width="1" />
<line x1="643.81" y1="289.50" x2="643.81" y2="287.90" stroke="#2b2b2b" stroke-width="1" />
<text x="642.71" y="413.90" font-size="10.6" text-anchor="middle" font-weight="normal" font-style="normal" fill="#111" >10</text>
<text x="641.30" y="286.50" font-size="10.6" text-anchor="middle" font-weight="normal" font-style="normal" fill="#111" >1024</text>
<line x1="671.99" y1="402.60" x2="671.99" y2="404.20" stroke="#2b2b2b" stroke-width="1" />
<line x1="671.99" y1="289.50" x2="671.99" y2="287.90" stroke="#2b2b2b" stroke-width="1" />
<text x="670.69" y="413.90" font-size="10.6" text-anchor="middle" font-weight="normal" font-style="normal" fill="#111" >12</text>
<text x="672.50" y="286.50" font-size="10.6" text-anchor="middle" font-weight="normal" font-style="normal" fill="#111" >4096</text>
<line x1="509.00" y1="396.10" x2="507.40" y2="396.10" stroke="#2b2b2b" stroke-width="1" />
<text x="506.1" y="399.90" font-size="10.6" text-anchor="end" fill="#111">0</text>
<line x1="509.00" y1="364.50" x2="507.40" y2="364.50" stroke="#2b2b2b" stroke-width="1" />
<text x="506.1" y="368.30" font-size="10.6" text-anchor="end" fill="#111">50</text>
<line x1="509.00" y1="332.90" x2="507.40" y2="332.90" stroke="#2b2b2b" stroke-width="1" />
<text x="506.1" y="336.70" font-size="10.6" text-anchor="end" fill="#111">100</text>
<line x1="509.00" y1="301.30" x2="507.40" y2="301.30" stroke="#2b2b2b" stroke-width="1" />
<text x="506.1" y="305.10" font-size="10.6" text-anchor="end" fill="#111">150</text>
<text x="594.25" y="271.70" font-size="12.55" text-anchor="middle" font-weight="normal" font-style="normal" fill="#111" >Bit length of stochastic number</text>
<text x="594.25" y="427.60" font-size="12.55" text-anchor="middle" font-weight="normal" font-style="normal" fill="#111" >Bit length of binary number</text>
<text x="472.00" y="271.05" font-size="12.5" text-anchor="start" font-weight="bold" font-style="normal" fill="#111" >f</text>
<polyline points="517.00,391.74 531.09,393.51 545.18,393.64 559.27,393.13 573.36,392.12 587.45,390.54 601.54,388.14 615.63,383.21 629.72,375.12 643.81,361.34 657.90,337.45 671.99,295.86" fill="none" stroke="#d2101e" stroke-width="1.1" stroke-linejoin="miter" />
<circle cx="517.00" cy="391.74" r="1.6" fill="#d2101e"/>
<circle cx="531.09" cy="393.51" r="1.6" fill="#d2101e"/>
<circle cx="545.18" cy="393.64" r="1.6" fill="#d2101e"/>
<circle cx="559.27" cy="393.13" r="1.6" fill="#d2101e"/>
<circle cx="573.36" cy="392.12" r="1.6" fill="#d2101e"/>
<circle cx="587.45" cy="390.54" r="1.6" fill="#d2101e"/>
<circle cx="601.54" cy="388.14" r="1.6" fill="#d2101e"/>
<circle cx="615.63" cy="383.21" r="1.6" fill="#d2101e"/>
<circle cx="629.72" cy="375.12" r="1.6" fill="#d2101e"/>
<circle cx="643.81" cy="361.34" r="1.6" fill="#d2101e"/>
<circle cx="657.90" cy="337.45" r="1.6" fill="#d2101e"/>
<circle cx="671.99" cy="295.86" r="1.6" fill="#d2101e"/>
<line x1="509.10" y1="333.40" x2="679.50" y2="333.40" stroke="#0b0bdc" stroke-width="2.0" stroke-dasharray="9.6,5.7" stroke-dashoffset="2.7"/>
<text transform="translate(469.5,346) rotate(-90)" font-size="12.55" text-anchor="middle" fill="#111">Consumption ratio</text>
<text transform="translate(486.5,346) rotate(-90)" font-size="12.55" text-anchor="middle" fill="#111">(%)</text>
<text x="516.30" y="325.50" font-size="12.55" text-anchor="start" font-weight="normal" font-style="normal" fill="#111" >Stochastic &gt; Binary</text>
<text x="516.30" y="347.60" font-size="12.55" text-anchor="start" font-weight="normal" font-style="normal" fill="#111" >Stochastic &lt; Binary</text>
</svg></body></html>
